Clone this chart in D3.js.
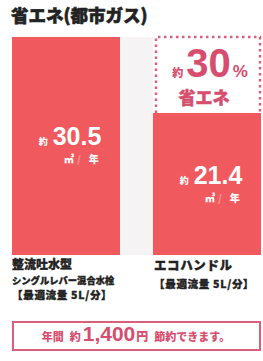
<!DOCTYPE html>
<html>
<head>
<meta charset="utf-8">
<script src="https://cdn.jsdelivr.net/npm/d3@7"></script>
<style>
  html, body { margin: 0; padding: 0; background: #fff; }
  svg { display: block; }
  .jp { font-family: "Noto Sans CJK JP", sans-serif; font-weight: 900; }
  .num { font-family: "Liberation Sans", Arial, sans-serif; font-weight: bold; }
</style>
</head>
<body>
<div id="chart"></div>
<script>
const title = "省エネ(都市ガス)";
const categories = ["整流吐水型", "エコハンドル"];
const values = [30.5, 21.4];
const labelLines = [
  ["整流吐水型", "シングルレバー混合水栓", "【最適流量 5L/分】"],
  ["エコハンドル", "【最適流量 5L/分】"]
];
const unitTop = "㎥";
const unitBottom = "年";
const savingPct = "30";
const savingText = "省エネ";
const yearSaving = "1,400";

const W = 263, H = 361;
const barColor = "#f05a5f";
const pink = "#d64d6e";

const svg = d3.select("#chart")
  .append("svg")
  .attr("width", W)
  .attr("height", H);

// Scales
const x = d3.scaleBand().domain(categories).range([12, 261]).paddingInner(0.234);
const y = d3.scaleLinear().domain([4.4, 30.5]).range([255, 37]);

// faint column between the bars
svg.append("rect")
  .attr("x", x(categories[0]) + x.bandwidth())
  .attr("y", 37)
  .attr("width", x(categories[1]) - x(categories[0]) - x.bandwidth())
  .attr("height", 218)
  .attr("fill", "#f5f3f3");

// Title
svg.append("text")
  .attr("class", "jp")
  .attr("x", 11)
  .attr("y", 22)
  .attr("font-size", 17.5)
  .attr("fill", "#222")
  .attr("stroke", "#222")
  .attr("stroke-width", 0.6)
  .text(title);

// Bars
svg.selectAll(".bar")
  .data(values)
  .enter()
  .append("rect")
  .attr("class", "bar")
  .attr("x", (d, i) => x(categories[i]))
  .attr("width", x.bandwidth())
  .attr("y", (d) => y(d))
  .attr("height", (d) => y.range()[0] - y(d))
  .attr("fill", barColor);

// Value labels inside bars
const valOffsets = [108, 71];
values.forEach((v, i) => {
  const cx = x(categories[i]) + x.bandwidth() / 2;
  const by = y(v) + valOffsets[i];
  const t = svg.append("text")
    .attr("x", cx + 4)
    .attr("y", by)
    .attr("text-anchor", "middle")
    .attr("fill", "#fff");
  t.append("tspan").attr("class", "jp").attr("font-size", 9).text("約");
  t.append("tspan").attr("class", "num").attr("font-size", 25).attr("dx", 5).text(v.toFixed(1));
  const u = svg.append("text")
    .attr("class", "jp")
    .attr("x", cx - 2)
    .attr("y", by + 18)
    .attr("font-size", 10)
    .attr("fill", "#fff");
  u.append("tspan").text(unitTop);
  u.append("tspan").attr("dx", 3).attr("opacity", 0.35).text("/");
  u.append("tspan").attr("dx", 8).text(unitBottom);
});

// Dashed box above the second bar
const bx = x(categories[1]) + 3;
const bTop = y.range()[1];
const bBottom = y(values[1]);
const bRight = x(categories[1]) + x.bandwidth() - 1;
svg.append("path")
  .attr("d", `M${bx},${bBottom} V${bTop} H${bRight} V${bBottom}`)
  .attr("fill", "none")
  .attr("stroke", "#d9607a")
  .attr("stroke-width", 2.5)
  .attr("stroke-dasharray", "2.5,3.5");

const boxCx = (bx + bRight) / 2;
const pct = svg.append("text")
  .attr("x", boxCx + 2)
  .attr("y", 77)
  .attr("text-anchor", "middle")
  .attr("fill", pink);
pct.append("tspan").attr("class", "jp").attr("font-size", 11).text("約");
pct.append("tspan").attr("class", "num").attr("font-size", 40).attr("dx", 3).text(savingPct);
pct.append("tspan").attr("class", "num").attr("font-size", 17).attr("dx", 2).text("%");

svg.append("text")
  .attr("class", "jp")
  .attr("x", boxCx - 4)
  .attr("y", 104)
  .attr("text-anchor", "middle")
  .attr("font-size", 17)
  .attr("fill", pink)
  .attr("stroke", pink)
  .attr("stroke-width", 0.5)
  .text(savingText);

// Category labels
const lineSize = (d, j, i) => {
  if (j === 0) return i ? 12.5 : 12;
  if (d.startsWith("【")) return 10.5;
  return 9.3;
};
const lineY = [[269, 283.5, 298.5], [270, 287.5]];
labelLines.forEach((lines, i) => {
  svg.append("text")
    .attr("class", "jp")
    .attr("fill", "#222")
    .attr("stroke", "#222")
    .attr("stroke-width", 0.35)
    .selectAll("tspan")
    .data(lines)
    .enter()
    .append("tspan")
    .attr("x", x(categories[i]) + (i ? 1 : 0))
    .attr("y", (d, j) => lineY[i][j])
    .attr("font-size", (d, j) => lineSize(d, j, i))
    .attr("letter-spacing", (d, j) => (j === 0 && i ? 0.6 : d.startsWith("【") ? 0.7 : 0))
    .text((d) => d);
});

// Bottom box
svg.append("rect")
  .attr("x", 13)
  .attr("y", 322)
  .attr("width", 247)
  .attr("height", 28)
  .attr("fill", "#fff")
  .attr("stroke", "#d9607a")
  .attr("stroke-width", 2);

const bt = svg.append("text")
  .attr("x", 136)
  .attr("y", 341)
  .attr("text-anchor", "middle")
  .attr("fill", pink);
bt.append("tspan").attr("class", "jp").attr("font-size", 11).text("年間");
bt.append("tspan").attr("class", "jp").attr("font-size", 11).attr("dx", 6).text("約");
bt.append("tspan").attr("class", "num").attr("font-size", 21).attr("dx", 2).text(yearSaving);
bt.append("tspan").attr("class", "jp").attr("font-size", 12).attr("dx", 1).text("円");
bt.append("tspan").attr("class", "jp").attr("font-size", 11).attr("dx", 6).text("節約できます。");
</script>
</body>
</html>
